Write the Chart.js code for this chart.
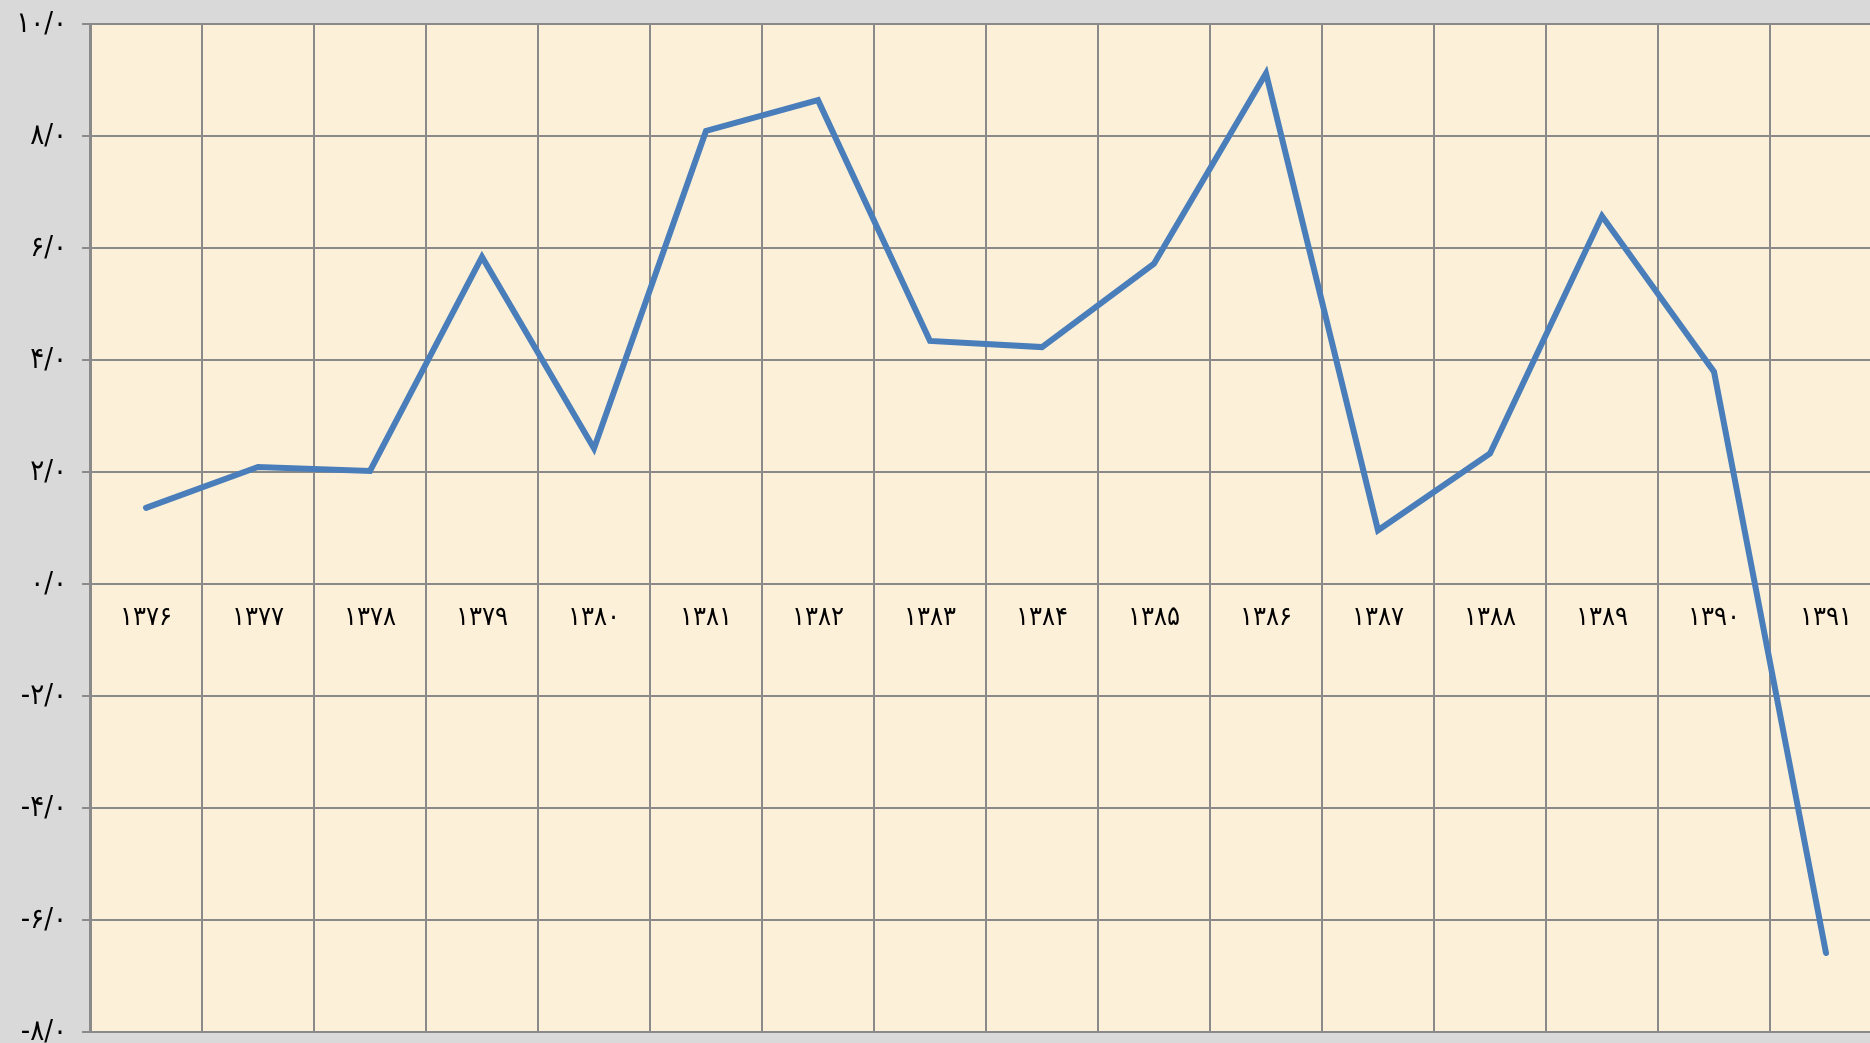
<!DOCTYPE html>
<html>
<head>
<meta charset="utf-8">
<script src="https://cdn.jsdelivr.net/npm/chart.js@4.4.1/dist/chart.umd.min.js"></script>
<style>
  html, body { margin: 0; padding: 0; overflow: hidden; background: #d9d9d9; }
  #growthChart { display: block; }
</style>
</head>
<body>
<canvas id="growthChart" width="1900" height="1043"></canvas>
<script>
// years (Persian calendar)
var years = ["۱۳۷۶", "۱۳۷۷", "۱۳۷۸", "۱۳۷۹", "۱۳۸۰", "۱۳۸۱", "۱۳۸۲", "۱۳۸۳",
  "۱۳۸۴", "۱۳۸۵", "۱۳۸۶", "۱۳۸۷", "۱۳۸۸", "۱۳۸۹", "۱۳۹۰", "۱۳۹۱"];

// growth rate (%)
var growth = [1.36, 2.09, 2.02, 5.84, 2.42, 8.09, 8.64, 4.34,
  4.23, 5.72, 9.12, 0.96, 2.33, 6.57, 3.79, -6.59];

// y axis ticks
var yTickValues = [10, 8, 6, 4, 2, 0, -2, -4, -6, -8];
var yTickLabels = ["۱۰/۰", "۸/۰", "۶/۰", "۴/۰", "۲/۰", "۰/۰", "-۲/۰", "-۴/۰", "-۶/۰", "-۸/۰"];

var gridColor = "#8a8a8a";
var fontFamily = '"DejaVu Sans Condensed", "DejaVu Sans", sans-serif';

// paper backgrounds
var backgroundPlugin = {
  id: "paper",
  beforeDraw: function (chart) {
    var ctx = chart.ctx;
    var area = chart.chartArea;
    ctx.save();
    ctx.fillStyle = "#d9d9d9";
    ctx.fillRect(0, 0, chart.width, chart.height);
    ctx.fillStyle = "#fcf0d8";
    ctx.fillRect(area.left, area.top, area.right - area.left, area.bottom - area.top);
    ctx.restore();
  },
};

var ctx = document.getElementById("growthChart").getContext("2d");
var growthChart = new Chart(ctx, {
  type: "line",
  data: {
    labels: years,
    datasets: [
      {
        label: "growth",
        data: growth,
        borderColor: "#4a7ebb",
        borderWidth: 6,
        borderCapStyle: "round",
        borderJoinStyle: "miter",
        pointRadius: 0,
        tension: 0,
        fill: false,
      },
    ],
  },
  options: {
    responsive: false,
    animation: false,
    layout: { padding: { left: 0, top: 24, right: 18, bottom: 11 } },
    plugins: {
      legend: { display: false },
      tooltip: { enabled: false },
    },
    scales: {
      x: {
        position: { y: 0 },
        offset: true,
        grid: {
          offset: true,
          color: gridColor,
          lineWidth: 2,
          drawTicks: false,
        },
        border: { color: gridColor, width: 2 },
        ticks: {
          color: "#000",
          padding: 18,
          maxRotation: 0,
          autoSkip: false,
          font: { family: fontFamily, size: 27 },
        },
      },
      y: {
        min: -8,
        max: 10,
        afterBuildTicks: function (scale) {
          scale.ticks = yTickValues.map(function (v) { return { value: v }; });
        },
        afterFit: function (scale) {
          scale.width = 90;
          scale.paddingTop = 0;
          scale.paddingBottom = 0;
        },
        grid: {
          color: gridColor,
          lineWidth: 2,
          tickLength: 8,
        },
        border: { color: gridColor, width: 3 },
        ticks: {
          color: "#000",
          padding: 15,
          font: { family: fontFamily, size: 29 },
          callback: function (value) {
            return yTickLabels[yTickValues.indexOf(value)];
          },
        },
      },
    },
  },
  plugins: [backgroundPlugin],
});
</script>
</body>
</html>
